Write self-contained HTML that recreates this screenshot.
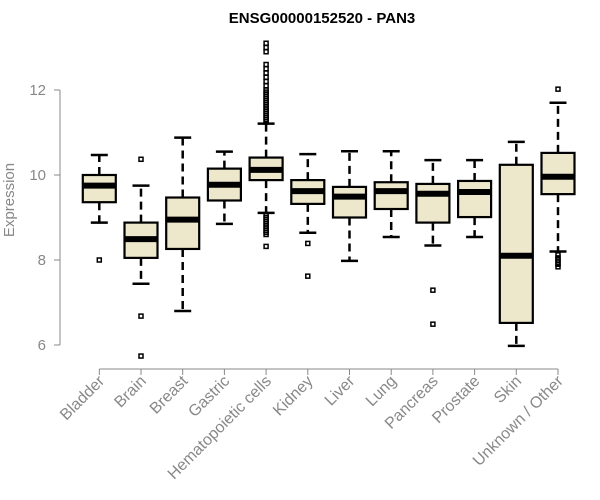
<!DOCTYPE html>
<html><head><meta charset="utf-8"><style>
body{margin:0;background:#fff;}
svg{display:block;font-family:"Liberation Sans",Arial,sans-serif;}
</style></head><body>
<svg id="chart" width="600" height="500"></svg>
<script>
const categories=["Bladder","Brain","Breast","Gastric","Hematopoietic cells","Kidney","Liver","Lung","Pancreas","Prostate","Skin","Unknown / Other"];
const whiskerLow=[8.88,7.44,6.8,8.85,9.11,8.64,7.98,8.54,8.34,8.54,5.98,8.2];
const q1=[9.36,8.05,8.26,9.4,9.88,9.32,9.0,9.2,8.88,9.01,6.52,9.55];
const medians=[9.75,8.49,8.95,9.77,10.12,9.62,9.49,9.62,9.56,9.6,8.1,9.96];
const q3=[10.0,8.88,9.47,10.15,10.41,9.88,9.72,9.83,9.79,9.86,10.24,10.52];
const whiskerHigh=[10.47,9.75,10.88,10.55,11.21,10.49,10.56,10.56,10.35,10.35,10.78,11.7];
const outliers=[[8.0],[10.37,6.68,5.74],[],[],[11.25,11.3,11.35,11.4,11.45,11.5,11.55,11.6,11.65,11.7,11.75,11.8,11.85,11.9,11.95,12.0,12.1,12.2,12.3,12.4,12.5,12.6,12.9,13.0,13.1,9.05,9.0,8.95,8.9,8.85,8.8,8.75,8.7,8.65,8.6,8.32],[8.39,7.62],[],[],[7.29,6.49],[],[],[12.02,8.12,8.05,8.0,7.95,7.9,7.84]];
const yTicks=[6,8,10,12];
const NS="http://www.w3.org/2000/svg";
const svg=document.getElementById("chart");
const y=v=>345-(v-6)*42.5;
const x=i=>99.3+i*41.7;
const hw=16.5;
function el(t,a,p){const e=document.createElementNS(NS,t);for(const k in a)e.setAttribute(k,a[k]);(p||svg).appendChild(e);return e;}
const title=el("text",{x:322,y:23,"text-anchor":"middle","font-size":"15","font-weight":"bold",fill:"#000"});
title.textContent="ENSG00000152520 - PAN3";


const yax=el("g",{});


el("line",{x1:60,x2:60,y1:y(12),y2:y(6),stroke:"#888","stroke-width":1},yax);
yTicks.forEach(t=>{
  el("line",{x1:54,x2:60,y1:y(t),y2:y(t),stroke:"#888"},yax);
  const tx=el("text",{x:46,y:y(t)+5,"text-anchor":"end","font-size":"15",fill:"#888"},yax);
  tx.textContent=t;
  
  
});
const yt=el("text",{x:0,y:0,transform:"translate(14,200) rotate(-90)","text-anchor":"middle","font-size":"15",fill:"#888"});
yt.textContent="Expression";


const xax=el("g",{});


el("line",{x1:x(0),x2:x(categories.length-1),y1:369,y2:369,stroke:"#888"},xax);
categories.forEach((c,i)=>{
  el("line",{x1:x(i),x2:x(i),y1:369,y2:375,stroke:"#888"},xax);
  const tx=el("text",{x:0,y:0,transform:`translate(${x(i)+6},${382}) rotate(-45)`,"text-anchor":"end","font-size":"16",fill:"#888"},xax);
  tx.textContent=c;
  
  
});
categories.forEach((c,i)=>{
  const g=el("g",{});
  
  
  const cx=x(i);
  el("line",{x1:cx,x2:cx,y1:y(q3[i]),y2:y(whiskerHigh[i]),stroke:"#000","stroke-width":2.5,"stroke-dasharray":"8,5"},g);
  el("line",{x1:cx,x2:cx,y1:y(q1[i]),y2:y(whiskerLow[i]),stroke:"#000","stroke-width":2.5,"stroke-dasharray":"8,5"},g);
  el("line",{x1:cx-8.5,x2:cx+8.5,y1:y(whiskerHigh[i]),y2:y(whiskerHigh[i]),stroke:"#000","stroke-width":2.5},g);
  el("line",{x1:cx-8.5,x2:cx+8.5,y1:y(whiskerLow[i]),y2:y(whiskerLow[i]),stroke:"#000","stroke-width":2.5},g);
  el("rect",{x:cx-hw,y:y(q3[i]),width:hw*2,height:y(q1[i])-y(q3[i]),fill:"#ede8cc",stroke:"#000","stroke-width":2.2},g);
  el("line",{x1:cx-hw,x2:cx+hw,y1:y(medians[i]),y2:y(medians[i]),stroke:"#000","stroke-width":6},g);
  outliers[i].forEach(o=>{
    el("rect",{x:cx-2,y:y(o)-2,width:4,height:4,fill:"none",stroke:"#000","stroke-width":1.5},g);
  });
});
</script>
</body></html>
